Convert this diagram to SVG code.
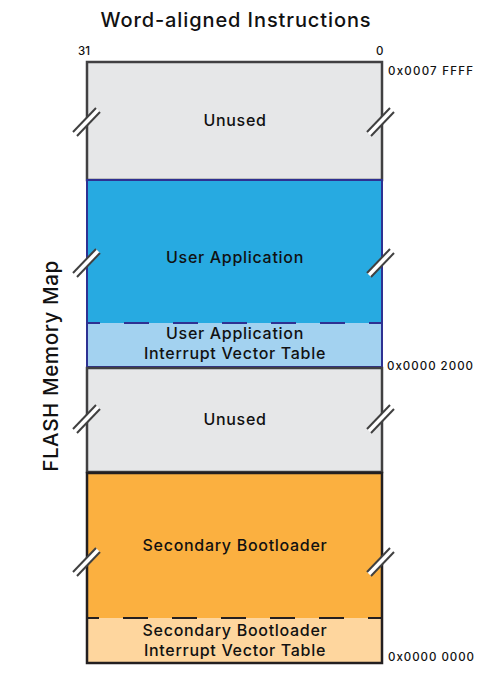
<svg xmlns="http://www.w3.org/2000/svg" width="500" height="682" viewBox="0 0 500 682">
<style>
text{font-family:Inter,"DejaVu Sans","Liberation Sans",sans-serif;font-weight:500;fill:#111}
.lbl{font-size:16px;text-anchor:middle;letter-spacing:0.7px}
.addr{font-size:11.5px}
.brk line{stroke:#404040;stroke-width:2}
.brk polygon{fill:#fff}
</style>
<defs>
<g id="brk" class="brk">
<polygon points="-12,12 11,-12 15,-8 -8,16"/>
<line x1="-12" y1="12" x2="11" y2="-12"/>
<line x1="-8" y1="16" x2="15" y2="-8"/>
</g>
</defs>
<rect width="500" height="682" fill="#fff"/>
<text x="236" y="27" style="font-size:20px;text-anchor:middle;letter-spacing:0.9px">Word-aligned Instructions</text>
<text x="78" y="55" class="addr">31</text>
<text x="376" y="55" class="addr">0</text>
<text x="388" y="75" class="addr" textLength="85" lengthAdjust="spacing">0x0007 FFFF</text>
<text x="387" y="370" class="addr" textLength="86" lengthAdjust="spacing">0x0000 2000</text>
<text x="388" y="661" class="addr" textLength="86" lengthAdjust="spacing">0x0000 0000</text>
<text transform="translate(58,366) rotate(-90)" style="font-size:20.5px;text-anchor:middle;letter-spacing:0.6px">FLASH Memory Map</text>
<g id="unused-top">
<rect x="87" y="62" width="295" height="118" fill="#e6e7e8" stroke="#414042" stroke-width="2.5"/>
<text x="235" y="126" class="lbl">Unused</text>
</g>
<g id="user-app">
<rect x="87" y="180" width="295" height="143" fill="#27aae1"/>
<rect x="87" y="323" width="295" height="44" fill="#a3d2f0"/>
<line x1="87" y1="323" x2="382" y2="323" stroke="#2e3192" stroke-width="2" stroke-dasharray="25 24" stroke-dashoffset="12"/>
<rect x="87" y="180" width="295" height="187" fill="none" stroke="#2e3192" stroke-width="2"/>
<text x="235" y="263" class="lbl">User Application</text>
<text x="235" y="339" class="lbl">User Application</text>
<text x="235" y="359" class="lbl">Interrupt Vector Table</text>
</g>
<g id="unused-mid">
<rect x="87" y="368" width="295" height="104" fill="#e6e7e8" stroke="#414042" stroke-width="2.5"/>
<text x="235" y="425" class="lbl">Unused</text>
</g>
<g id="bootloader">
<rect x="87" y="472" width="295" height="146" fill="#fbb040"/>
<rect x="87" y="618" width="295" height="45" fill="#fed69e"/>
<line x1="87" y1="618" x2="382" y2="618" stroke="#231f20" stroke-width="2" stroke-dasharray="25 24" stroke-dashoffset="13"/>
<rect x="87" y="473" width="295" height="190" fill="none" stroke="#231f20" stroke-width="2.5"/>
<text x="235" y="551" class="lbl">Secondary Bootloader</text>
<text x="235" y="636" class="lbl">Secondary Bootloader</text>
<text x="235" y="656" class="lbl">Interrupt Vector Table</text>
</g>
<g id="connectors">
<use href="#brk" x="85" y="120"/>
<use href="#brk" x="379" y="120"/>
<use href="#brk" x="85" y="261"/>
<use href="#brk" x="379" y="261"/>
<use href="#brk" x="85" y="417"/>
<use href="#brk" x="379" y="417"/>
<use href="#brk" x="85" y="560"/>
<use href="#brk" x="379" y="560"/>
</g>
</svg>
